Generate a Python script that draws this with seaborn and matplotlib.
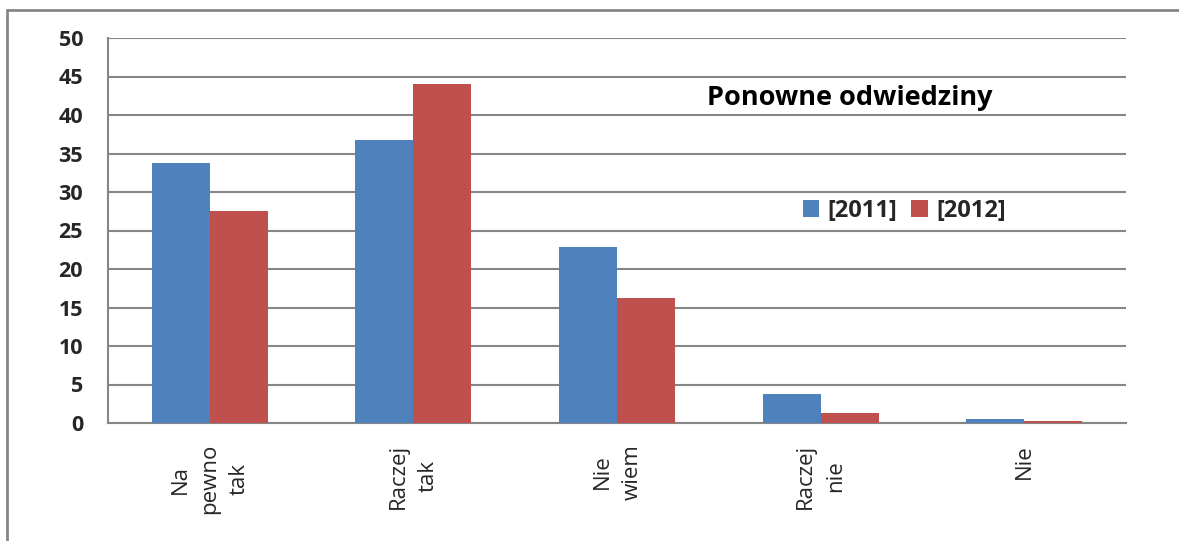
import matplotlib
matplotlib.use("Agg")
import matplotlib.pyplot as plt
import seaborn as sns
import pandas as pd
from matplotlib.lines import Line2D
from matplotlib.patches import Patch

categories = ["Na\npewno\ntak", "Raczej\ntak", "Nie\nwiem", "Raczej\nnie", "Nie"]
series_names = ["[2011]", "[2012]"]
values_2011 = [33.8, 36.7, 22.8, 3.8, 0.5]
values_2012 = [27.5, 44.0, 16.2, 1.3, 0.3]
yticks = [0, 5, 10, 15, 20, 25, 30, 35, 40, 45, 50]
title = "Ponowne odwiedziny"

colors = ["#4F81BD", "#C0504D"]

df = pd.DataFrame({
    "cat": categories * 2,
    "series": [series_names[0]] * 5 + [series_names[1]] * 5,
    "value": values_2011 + values_2012,
})

sns.set_theme(style="white")
plt.rcParams["font.family"] = ["Open Sans", "DejaVu Sans"]

fig = plt.figure(figsize=(11.79, 5.41), dpi=100)
ax = fig.add_axes([108/1179, 1-423/541, (1126-108)/1179, (423-38)/541])

sns.barplot(data=df, x="cat", y="value", hue="series", order=categories,
            hue_order=series_names, palette=colors, width=0.57, gap=0,
            saturation=1, ax=ax, legend=False, linewidth=0, zorder=3)

ax.set_ylim(0, 50)
ax.set_xlim(-0.5, 4.5)
ax.set_yticks(yticks)
ax.set_yticklabels([str(t) for t in yticks], fontsize=15.5, fontweight="bold")
ax.yaxis.grid(True, color="#868686", linewidth=1.5, zorder=0)
ax.set_axisbelow(True)
ax.tick_params(axis="y", length=0, pad=18)
ax.tick_params(axis="x", length=0, pad=15)
ax.set_xticks(range(len(categories)))
ax.set_xticklabels(categories, rotation=90, fontsize=16, va="top", ha="center",
                   multialignment="center", linespacing=1.55)
ax.set_xlabel("")
ax.set_ylabel("")
for s in ["top", "right"]:
    ax.spines[s].set_visible(False)
ax.spines["bottom"].set_color("#868686")
ax.spines["bottom"].set_linewidth(1.5)
ax.spines["left"].set_color("#868686")
ax.spines["left"].set_linewidth(1.5)

ax.text(0.729, 0.843, title, transform=ax.transAxes, ha="center", va="center",
        fontsize=19.5, fontweight="bold", color="black")

handles = [Patch(facecolor=c, edgecolor="none") for c in colors]
leg = ax.legend(handles, series_names, loc="center", bbox_to_anchor=(0.782, 0.551),
                ncol=2, frameon=False, handlelength=0.7, handleheight=0.7,
                handletextpad=0.35, columnspacing=0.6,
                prop={"size": 17, "weight": "bold"})

# outer frame (top and left lines visible)
fig.add_artist(Line2D([7/1179, 1.0], [1-10/541, 1-10/541], transform=fig.transFigure,
                      color="#868686", linewidth=2))
fig.add_artist(Line2D([7.5/1179, 7.5/1179], [0.0, 1-10/541], transform=fig.transFigure,
                      color="#868686", linewidth=2))

fig.savefig("out.png", dpi=100)
